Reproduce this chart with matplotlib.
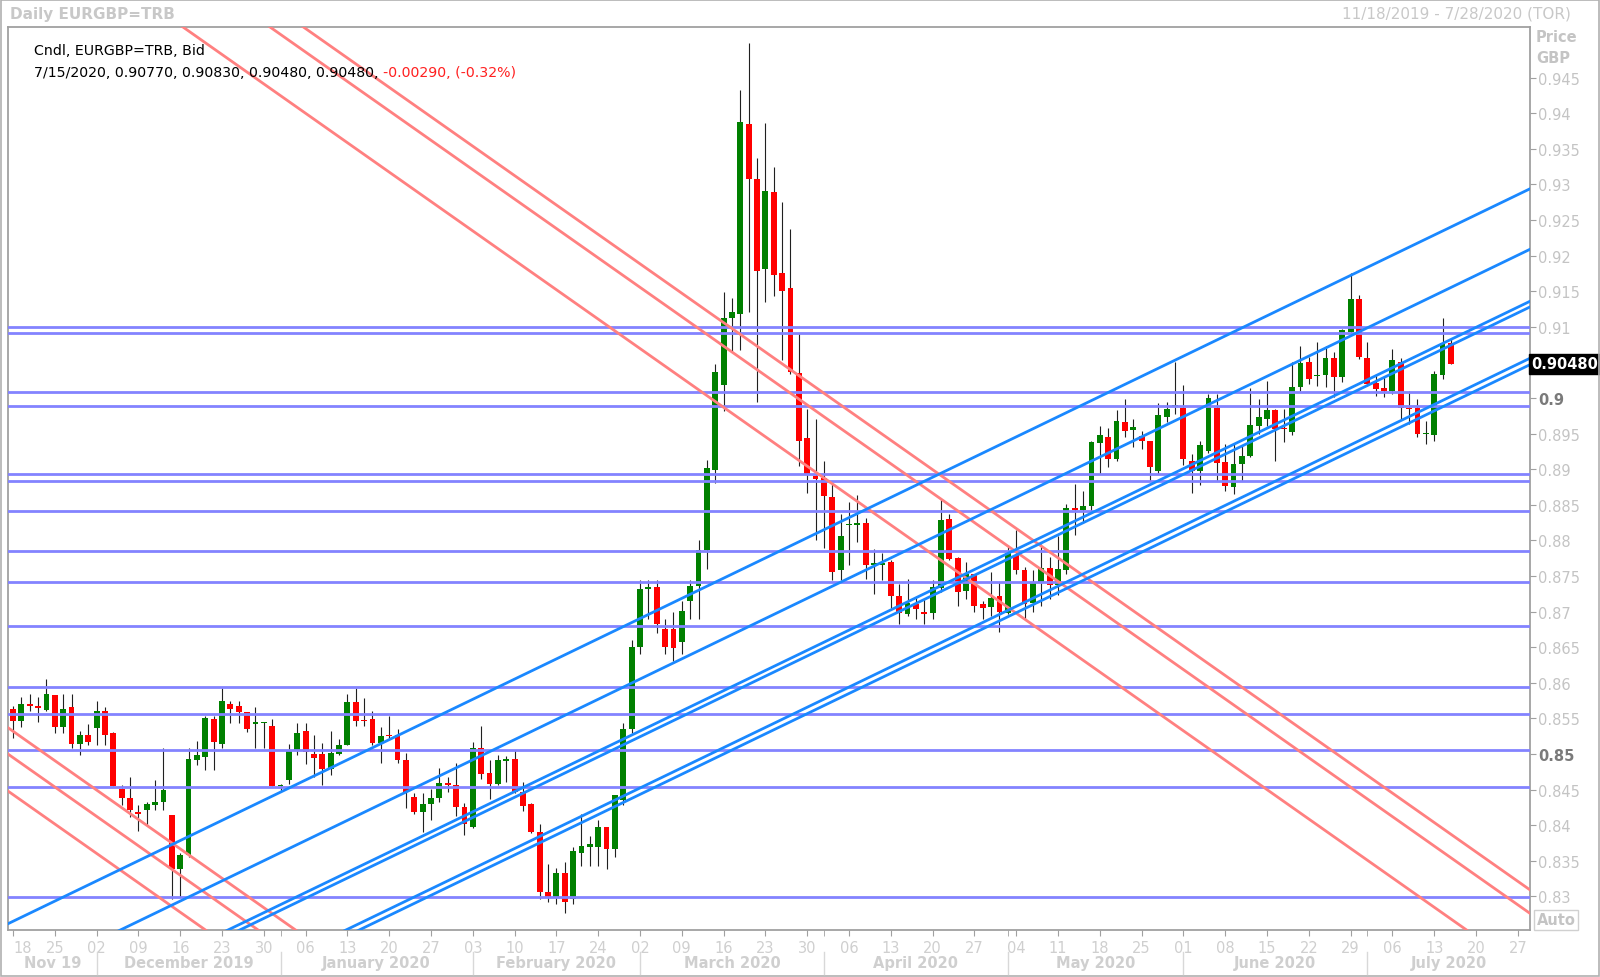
import numpy as np
import pandas as pd
import matplotlib
matplotlib.use('Agg')
import matplotlib.pyplot as plt
from matplotlib.patches import Rectangle
from matplotlib.lines import Line2D
import matplotlib.transforms as mtransforms

# business days shown on the axis
dates = pd.bdate_range('2019-11-18', '2020-07-28')

# daily candles 11/18/2019 .. 7/15/2020
opens = [0.8563, 0.8546, 0.8570, 0.8567, 0.8562, 0.8583, 0.8538, 0.8566, 0.8514, 0.8527,
         0.8537, 0.8561, 0.8530, 0.8451, 0.8438, 0.8418, 0.8421, 0.8429, 0.8433, 0.8414,
         0.8339, 0.8358, 0.8491, 0.8496, 0.8549, 0.8514, 0.8570, 0.8568, 0.8559, 0.8542,
         0.8544, 0.8539, 0.8455, 0.8463, 0.8505, 0.8533, 0.8500, 0.8500, 0.8479, 0.8500,
         0.8513, 0.8573, 0.8548, 0.8549, 0.8516, 0.8527, 0.8526, 0.8492, 0.8439, 0.8418,
         0.8430, 0.8438, 0.8459, 0.8456, 0.8425, 0.8397, 0.8509, 0.8473, 0.8458, 0.8490,
         0.8493, 0.8446, 0.8430, 0.8390, 0.8306, 0.8298, 0.8333, 0.8297, 0.8361, 0.8369,
         0.8370, 0.8397, 0.8367, 0.8435, 0.8535, 0.8650, 0.8732, 0.8735, 0.8675, 0.8676,
         0.8658, 0.8715, 0.8736, 0.8787, 0.8899, 0.9018, 0.9113, 0.9118, 0.9385, 0.9307,
         0.9181, 0.9289, 0.9175, 0.9154, 0.9035, 0.8944, 0.8890, 0.8887, 0.8861, 0.8758,
         0.8821, 0.8822, 0.8825, 0.8766, 0.8766, 0.8769, 0.8722, 0.8696, 0.8711, 0.8699,
         0.8698, 0.8733, 0.8830, 0.8775, 0.8729, 0.8753, 0.8710, 0.8706, 0.8722, 0.8698,
         0.8779, 0.8759, 0.8712, 0.8742, 0.8761, 0.8737, 0.8758, 0.8845, 0.8843, 0.8848,
         0.8937, 0.8945, 0.8915, 0.8967, 0.8955, 0.8947, 0.8940, 0.8898, 0.8974, 0.8989,
         0.8986, 0.8911, 0.8897, 0.8926, 0.8986, 0.8910, 0.8875, 0.8907, 0.8919, 0.8961,
         0.8971, 0.8983, 0.8957, 0.8952, 0.9015, 0.9050, 0.9031, 0.9033, 0.9056, 0.9030,
         0.9093, 0.9139, 0.9056, 0.9021, 0.9014, 0.9010, 0.9050, 0.8986, 0.8986, 0.8950,
         0.8948, 0.9033, 0.9077]
highs = [0.8568, 0.8580, 0.8584, 0.8580, 0.8605, 0.8583, 0.8584, 0.8584, 0.8533, 0.8542,
         0.8575, 0.8566, 0.8531, 0.8456, 0.8467, 0.8428, 0.8432, 0.8463, 0.8509, 0.8414,
         0.8361, 0.8509, 0.8518, 0.8554, 0.8554, 0.8592, 0.8575, 0.8574, 0.8559, 0.8566,
         0.8545, 0.8549, 0.8458, 0.8514, 0.8544, 0.8544, 0.8526, 0.8516, 0.8533, 0.8521,
         0.8584, 0.8592, 0.8578, 0.8561, 0.8538, 0.8554, 0.8535, 0.8501, 0.8445, 0.8445,
         0.8451, 0.8480, 0.8467, 0.8488, 0.8431, 0.8517, 0.8539, 0.8491, 0.8498, 0.8497,
         0.8505, 0.8460, 0.8431, 0.8402, 0.8346, 0.8340, 0.8348, 0.8370, 0.8416, 0.8385,
         0.8408, 0.8397, 0.8443, 0.8544, 0.8660, 0.8745, 0.8745, 0.8745, 0.8690, 0.8700,
         0.8715, 0.8745, 0.8800, 0.8913, 0.9048, 0.9149, 0.9140, 0.9432, 0.9499, 0.9337,
         0.9386, 0.9324, 0.9275, 0.9238, 0.9092, 0.8984, 0.8970, 0.8911, 0.8880, 0.8837,
         0.8854, 0.8864, 0.8832, 0.8788, 0.8782, 0.8772, 0.8739, 0.8746, 0.8720, 0.8718,
         0.8744, 0.8858, 0.8837, 0.8776, 0.8769, 0.8753, 0.8715, 0.8755, 0.8741, 0.8793,
         0.8814, 0.8762, 0.8758, 0.8795, 0.8776, 0.8806, 0.8851, 0.8879, 0.8870, 0.8940,
         0.8960, 0.8958, 0.8983, 0.8999, 0.8971, 0.8954, 0.8940, 0.8993, 0.8995, 0.9050,
         0.9018, 0.8921, 0.8939, 0.9006, 0.9006, 0.8935, 0.8935, 0.8932, 0.9014, 0.8998,
         0.9024, 0.8985, 0.8985, 0.9050, 0.9073, 0.9057, 0.9078, 0.9073, 0.9064, 0.9097,
         0.9176, 0.9145, 0.9078, 0.9034, 0.9029, 0.9069, 0.9056, 0.9010, 0.8999, 0.8968,
         0.9038, 0.9112, 0.9083]
lows = [0.8522, 0.8538, 0.8560, 0.8545, 0.8561, 0.8530, 0.8530, 0.8508, 0.8499, 0.8512,
        0.8513, 0.8512, 0.8455, 0.8428, 0.8411, 0.8392, 0.8400, 0.8421, 0.8421, 0.8296,
        0.8299, 0.8355, 0.8484, 0.8477, 0.8477, 0.8508, 0.8544, 0.8544, 0.8531, 0.8508,
        0.8508, 0.8455, 0.8448, 0.8458, 0.8499, 0.8486, 0.8467, 0.8456, 0.8471, 0.8499,
        0.8512, 0.8539, 0.8539, 0.8512, 0.8488, 0.8521, 0.8488, 0.8424, 0.8416, 0.8390,
        0.8408, 0.8433, 0.8447, 0.8413, 0.8386, 0.8396, 0.8465, 0.8437, 0.8457, 0.8461,
        0.8445, 0.8420, 0.8389, 0.8297, 0.8292, 0.8290, 0.8276, 0.8289, 0.8342, 0.8342,
        0.8343, 0.8339, 0.8356, 0.8428, 0.8530, 0.8640, 0.8690, 0.8670, 0.8640, 0.8630,
        0.8640, 0.8690, 0.8690, 0.8760, 0.8880, 0.8982, 0.9065, 0.9068, 0.9121, 0.8995,
        0.9135, 0.9143, 0.9054, 0.9034, 0.8904, 0.8867, 0.8800, 0.8790, 0.8744, 0.8744,
        0.8765, 0.8798, 0.8746, 0.8725, 0.8744, 0.8705, 0.8683, 0.8694, 0.8690, 0.8683,
        0.8690, 0.8727, 0.8772, 0.8708, 0.8718, 0.8700, 0.8690, 0.8694, 0.8671, 0.8697,
        0.8753, 0.8690, 0.8699, 0.8708, 0.8718, 0.8723, 0.8753, 0.8807, 0.8825, 0.8838,
        0.8893, 0.8903, 0.8911, 0.8945, 0.8931, 0.8928, 0.8884, 0.8893, 0.8966, 0.8978,
        0.8906, 0.8867, 0.8878, 0.8923, 0.8884, 0.8870, 0.8865, 0.8884, 0.8917, 0.8949,
        0.8961, 0.8911, 0.8938, 0.8948, 0.9010, 0.9020, 0.9017, 0.9015, 0.9001, 0.9022,
        0.9092, 0.9055, 0.9017, 0.9003, 0.9001, 0.9006, 0.8971, 0.8964, 0.8945, 0.8936,
        0.8940, 0.9027, 0.9048]
closes = [0.8546, 0.8570, 0.8567, 0.8565, 0.8584, 0.8538, 0.8563, 0.8514, 0.8527, 0.8517,
          0.8560, 0.8527, 0.8455, 0.8438, 0.8422, 0.8416, 0.8430, 0.8433, 0.8450, 0.8339,
          0.8358, 0.8493, 0.8498, 0.8550, 0.8517, 0.8574, 0.8563, 0.8559, 0.8535, 0.8545,
          0.8544, 0.8455, 0.8457, 0.8505, 0.8530, 0.8503, 0.8495, 0.8479, 0.8502, 0.8513,
          0.8573, 0.8547, 0.8546, 0.8516, 0.8525, 0.8525, 0.8491, 0.8446, 0.8418, 0.8430,
          0.8438, 0.8459, 0.8457, 0.8425, 0.8402, 0.8509, 0.8472, 0.8458, 0.8491, 0.8493,
          0.8446, 0.8427, 0.8390, 0.8306, 0.8298, 0.8333, 0.8292, 0.8364, 0.8371, 0.8374,
          0.8397, 0.8367, 0.8442, 0.8535, 0.8650, 0.8732, 0.8735, 0.8683, 0.8650, 0.8649,
          0.8701, 0.8736, 0.8787, 0.8901, 0.9036, 0.9113, 0.9121, 0.9387, 0.9307, 0.9178,
          0.9291, 0.9173, 0.9150, 0.9037, 0.8940, 0.8893, 0.8886, 0.8863, 0.8755, 0.8806,
          0.8822, 0.8825, 0.8765, 0.8768, 0.8768, 0.8722, 0.8698, 0.8712, 0.8703, 0.8697,
          0.8734, 0.8829, 0.8774, 0.8728, 0.8753, 0.8708, 0.8705, 0.8719, 0.8699, 0.8782,
          0.8759, 0.8711, 0.8741, 0.8761, 0.8737, 0.8760, 0.8845, 0.8843, 0.8848, 0.8938,
          0.8948, 0.8914, 0.8968, 0.8954, 0.8959, 0.8940, 0.8903, 0.8976, 0.8985, 0.8990,
          0.8915, 0.8898, 0.8934, 0.9000, 0.8909, 0.8877, 0.8907, 0.8919, 0.8962, 0.8974,
          0.8983, 0.8957, 0.8956, 0.9015, 0.9049, 0.9027, 0.9031, 0.9056, 0.9030, 0.9095,
          0.9139, 0.9057, 0.9020, 0.9013, 0.9010, 0.9053, 0.8986, 0.8984, 0.8950, 0.8951,
          0.9034, 0.9077, 0.9048]

# drawn support / resistance levels
hlines = [0.9100, 0.9091, 0.9009, 0.8989, 0.8893, 0.8884, 0.8842, 0.8785, 0.8742,
          0.8680, 0.8594, 0.8556, 0.8506, 0.8454, 0.8299]
# rising channel lines: level at day 0, shared slope per day
up_slope = 0.000567
up_start = [0.8265, 0.8180, 0.8107, 0.8099, 0.8027, 0.8018]
# falling lines: level at day 0, shared slope per day
down_slope = -0.000826
down_start = [0.9689, 0.9775, 0.9808, 0.8532, 0.8495, 0.8443]

ytick_vals = np.round(np.arange(0.83, 0.9451, 0.005), 3)
last_price = 0.90480
change = -0.00290
change_pct = -0.32

GRAY = '#c4c4c4'
DARK = '#7a7a7a'
W, H = 1600, 978

def fx(px):
    return px / W

def fy(py):
    return 1 - py / H

fig = plt.figure(figsize=(16, 9.78), dpi=100)
ax = fig.add_axes([fx(8), fy(931), fx(1530) - fx(8), fy(28) - fy(931)])
ax.set_xlim(-0.598, 181.46)
ax.set_ylim(0.82528, 0.95211)

o = np.array(opens); h = np.array(highs); l = np.array(lows); c = np.array(closes)
x = np.arange(len(o))
up = c >= o
ax.vlines(x, l, h, color='#202020', lw=0.8, zorder=2)
bot = np.minimum(o, c)
hgt = np.maximum(np.abs(c - o), 0.00015)
ax.bar(x[up], hgt[up], bottom=bot[up], width=0.7, color='#008000', lw=0, zorder=3)
ax.bar(x[~up], hgt[~up], bottom=bot[~up], width=0.7, color='#ff0000', lw=0, zorder=3)

xx = np.array([-5, 190])
for v in hlines:
    ax.axhline(v, color='#8383ff', lw=2.0, zorder=4)
for s in down_start:
    ax.plot(xx, s + down_slope * xx, color='#ff8080', lw=2.0, zorder=4)
for s in up_start:
    ax.plot(xx, s + up_slope * xx, color='#1a88ff', lw=2.0, zorder=5)

for sp in ax.spines.values():
    sp.set_color('#a0a0a0')
    sp.set_linewidth(1.3)

# right price axis (0.905 label sits under the last price tag)
ax.yaxis.tick_right()
ax.set_yticks(ytick_vals)
ax.set_yticklabels(['' if abs(v - 0.905) < 1e-9 else '%g' % v for v in ytick_vals])
ax.tick_params(axis='y', length=4, color='#a0a0a0', pad=2, labelsize=10.5, labelcolor=GRAY)
for t, v in zip(ax.get_yticklabels(), ytick_vals):
    if abs(v - 0.9) < 1e-9 or abs(v - 0.85) < 1e-9:
        t.set_fontweight('bold')
        t.set_color(DARK)

# weekly day labels + month boundary ticks
mondays = [i for i, d in enumerate(dates) if d.weekday() == 0]
ax.set_xticks(mondays)
ax.set_xticklabels([dates[i].strftime('%d') for i in mondays])
ax.tick_params(axis='x', length=4, color='#a0a0a0', pad=3, labelsize=10.5, labelcolor='#cfcfcf')
ax.get_xticklabels()[0].set_ha('left')
month_first = [i for i in range(1, len(dates)) if dates[i].month != dates[i - 1].month]
ax.set_xticks(month_first, minor=True)
ax.tick_params(axis='x', which='minor', length=4, color='#a0a0a0')

# month row
bounds = [-0.598] + month_first + [181.46]
names = ['Nov 19'] + [dates[i].strftime('%B %Y') for i in month_first]
to_fig = lambda d: ax.transData.transform((d, 0))[0] / W
for k, name in enumerate(names):
    mid = (to_fig(bounds[k]) + to_fig(bounds[k + 1])) / 2
    fig.text(mid, fy(964), name, ha='center', va='center', fontsize=10.5,
             fontweight='bold', color='#cfcfcf')
for b in month_first:
    fig.add_artist(Line2D([to_fig(b)] * 2, [fy(953), fy(975)], color='#d8d8d8', lw=1))

# last price tag
tr = mtransforms.blended_transform_factory(ax.transAxes, ax.transData)
ax.text(1.001, last_price, '%.5f' % last_price, transform=tr, ha='left', va='center',
        fontsize=10.5, fontweight='bold', color='white', zorder=10, clip_on=False,
        bbox=dict(boxstyle='square,pad=0.15', fc='black', ec='black'))

# header texts
fig.text(fx(10), fy(14), 'Daily EURGBP=TRB', fontsize=11, fontweight='bold',
         color='#c8c8c8', va='center', ha='left')
fig.text(fx(1571), fy(14), '11/18/2019 - 7/28/2020 (TOR)', fontsize=11,
         color='#c8c8c8', va='center', ha='right')
fig.text(fx(1536), fy(38), 'Price', fontsize=10.5, fontweight='bold', color=GRAY, va='center')
fig.text(fx(1536), fy(59), 'GBP', fontsize=10.5, fontweight='bold', color=GRAY, va='center')
fig.text(fx(1556), fy(921), 'Auto', fontsize=10.5, fontweight='bold', color=GRAY,
         va='center', ha='center',
         bbox=dict(boxstyle='square,pad=0.15', fc='white', ec='#d0d0d0'))

# data legend
fig.text(fx(34), fy(51), 'Cndl, EURGBP=TRB, Bid', fontsize=10.2, color='black', va='center')
t1 = fig.text(fx(34), fy(73), '7/15/2020, %.5f, %.5f, %.5f, %.5f, '
              % (opens[-1], highs[-1], lows[-1], closes[-1]),
              fontsize=10.2, color='black', va='center')
r = fig.canvas.get_renderer()
bb = t1.get_window_extent(renderer=r)
fig.text(bb.x1 / W, fy(73), '%.5f, (%.2f%%)' % (change, change_pct), fontsize=10.2,
         color='#ff2020', va='center')

# outer frame
fig.add_artist(Rectangle((fx(1), fy(977)), fx(1598), fy(1) - fy(977), transform=fig.transFigure,
                         fill=False, ec='#b0b0b0', lw=1.2))

fig.savefig('out.png', dpi=100)
